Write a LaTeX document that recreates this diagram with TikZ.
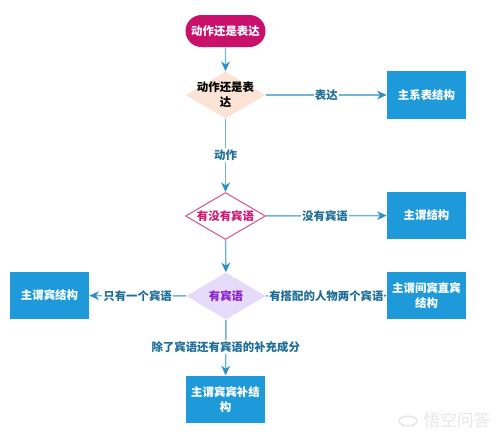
\documentclass[tikz,border=0pt]{standalone}
\usepackage{fontspec}
\setmainfont{Noto Sans CJK SC}
\usetikzlibrary{arrows.meta,shapes.geometric,shapes.misc}
\definecolor{boxblue}{HTML}{1E9ADB}
\definecolor{linkblue}{HTML}{6FB4D6}
\definecolor{tipblue}{HTML}{2E8FC2}
\definecolor{labelblue}{HTML}{1F6E97}
\definecolor{startpink}{HTML}{C9106B}
\definecolor{peach}{HTML}{FBE4D6}
\definecolor{rosepink}{HTML}{CF5C8C}
\definecolor{rosetext}{HTML}{CC1A78}
\definecolor{lilac}{HTML}{E6DBF9}
\definecolor{violet}{HTML}{8A22CF}
\tikzset{
  cjktext/.style={font=\fontsize{6.5}{8.5}\selectfont\bfseries, align=center},
  startpill/.style={cjktext, rounded rectangle, fill=startpink, text=white,
    minimum width=1.6cm, minimum height=0.64cm, inner sep=0pt},
  choice/.style={diamond, minimum width=1.6cm, minimum height=0.94cm, inner sep=0pt},
  result/.style={cjktext, fill=boxblue, text=white, minimum width=1.58cm,
    minimum height=0.95cm, inner sep=0pt},
  link/.style={-{Stealth[length=5.5pt,width=5pt,color=tipblue]}, line width=0.8pt, color=linkblue},
  linklabel/.style={cjktext, text=labelblue, fill=white, inner xsep=0.5pt, inner ysep=1pt},
  markfaint/.style={font=\fontsize{9.5}{11}\selectfont, text=black!10},
}
\begin{document}
\begin{tikzpicture}[x=0.02cm,y=-0.02cm]
  \useasboundingbox (0,0) rectangle (500,437);
  % the decisions, top to bottom
  \node[startpill] (start) at (225.5,31) {动作还是表达};
  \node[choice, fill=peach, label={[cjktext]center:动作还是表\\达}] (actq) at (225.5,95) {};
  \node[choice, draw=rosepink, line width=0.6pt,
        label={[cjktext, text=rosetext]center:有没有宾语}] (objq) at (225.5,216) {};
  \node[choice, fill=lilac, label={[cjktext, text=violet]center:有宾语}] (objs) at (226,296) {};
  % the results
  \node[result] (linking) at (426.5,95) {主系表结构};
  \node[result] (sv) at (426.5,215.5) {主谓结构};
  \node[result] (svo) at (49.5,295.5) {主谓宾结构};
  \node[result] (svoo) at (426.5,295.5) {主谓间宾直宾\\结构};
  \node[result] (svoc) at (225.5,399.5) {主谓宾宾补结\\构};
  % links
  \draw[link] (start) -- (actq);
  \draw[link] (actq) -- node[linklabel, pos=0.5] {表达} (linking);
  \draw[link] (actq) -- node[linklabel, pos=0.49] {动作} (objq);
  \draw[link] (objq) -- node[linklabel, pos=0.49] {没有宾语} (sv);
  \draw[link] (objq) -- (objs);
  \draw[link] (objs) -- node[linklabel, pos=0.5] {只有一个宾语} (svo);
  \draw[link] (objs) -- node[linklabel, pos=0.5] {有搭配的人物两个宾语} (svoo);
  \draw[link] (objs) -- node[linklabel, pos=0.49] {除了宾语还有宾语的补充成分} (svoc);
  % faint mark, bottom right
  \node[markfaint] (mark) at (457,420.5) {悟空问答};
  \node[draw=black!10, ellipse, line width=0.8pt, minimum width=0.36cm, minimum height=0.2cm, inner sep=0pt] (logo) at (408,421) {};
\end{tikzpicture}
\end{document}
